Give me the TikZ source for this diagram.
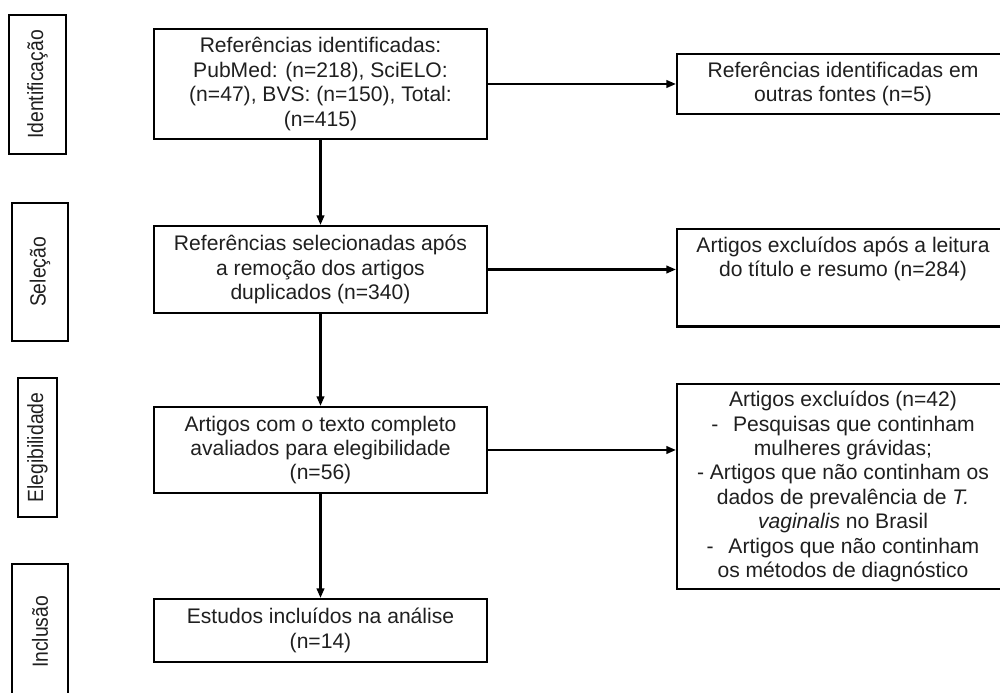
\documentclass[tikz,border=0pt]{standalone}
\usepackage{fontspec}
\setmainfont{Liberation Sans}
\usepackage{graphicx}
\usepackage{tikz}
\usetikzlibrary{arrows.meta,calc,positioning}

\newcommand{\narrowlabel}[1]{\scalebox{0.88}[1]{#1}}

\begin{document}
\begin{tikzpicture}[every node/.style={font=\fontsize{12}{13.9}\selectfont,text=black!88},
                    stage/.style={draw,line width=1.2pt,rotate=90,inner sep=0pt,
                                  font=\fontsize{12.5}{14}\selectfont},
                    stepbox/.style={draw,line width=1.2pt,align=center,
                                    minimum width=6.66cm,inner sep=0pt},
                    sidebox/.style={draw,line width=1.2pt,align=center,
                                    minimum width=6.64cm,inner sep=0pt},
                    flow/.style={line width=1.2pt,-{Triangle[length=1.9mm,width=1.5mm]}}]

  \path[use as bounding box,clip] (0,0) rectangle (20,13.86);

  % --- stage labels on the left ----------------------------------------
  \node[stage,minimum width=2.78cm,minimum height=1.14cm] (ident) at (0.75,12.17) {\narrowlabel{Identificação}};
  \node[stage,minimum width=2.76cm,minimum height=1.12cm] (selec) at (0.80,8.42) {\narrowlabel{Seleção}};
  \node[stage,minimum width=2.78cm,minimum height=0.78cm] (elegi) at (0.75,4.91) {\narrowlabel{Elegibilidade}};
  \node[stage,minimum width=2.72cm,minimum height=1.12cm] (inclu) at (0.80,1.22) {\narrowlabel{Inclusão}};

  % --- main column -----------------------------------------------------
  \node[stepbox,minimum height=2.20cm] (refs) at (6.41,12.18)
      {Referências identificadas:\\PubMed: (n=218), SciELO:\\(n=47), BVS: (n=150), Total:\\(n=415)};
  \node[stepbox,minimum height=1.74cm] (sel) at (6.41,8.47)
      {Referências selecionadas após\\a remoção dos artigos\\duplicados (n=340)};
  \node[stepbox,minimum height=1.72cm] (full) at (6.41,4.86)
      {Artigos com o texto completo\\avaliados para elegibilidade\\(n=56)};
  \node[stepbox,minimum height=1.26cm] (incl) at (6.41,1.25)
      {Estudos incluídos na análise\\(n=14)};

  % --- side column (runs off the right edge) ---------------------------
  \node[sidebox,minimum height=1.20cm] (other) at (16.86,12.18)
      {Referências identificadas em\\outras fontes (n=5)};
  \node[sidebox,anchor=north,inner ysep=0.16cm,text depth=0.83cm] (excl1) at (16.86,9.30)
      {Artigos excluídos após a leitura\\do título e resumo (n=284)};
  \node[sidebox,minimum height=4.10cm] (excl2) at (16.86,4.13)
      {Artigos excluídos (n=42)\\
       -\hspace{0.7em}Pesquisas que continham\\
       mulheres grávidas;\\
       - Artigos que não continham os\\
       dados de prevalência de \textit{T.}\\
       \textit{vaginalis} no Brasil\\
       -\hspace{0.7em}Artigos que não continham\\
       os métodos de diagnóstico};

  % --- connectors ------------------------------------------------------
  \draw[flow] (refs) -- (sel);
  \draw[flow] (sel) -- (full);
  \draw[flow] (full) -- (incl);
  \draw[flow] (refs.east) -- (other.west);
  \draw[flow] (sel.east) -- (sel.east -| excl1.west);
  \draw[flow] (full.east) -- (full.east -| excl2.west);
\end{tikzpicture}
\end{document}
